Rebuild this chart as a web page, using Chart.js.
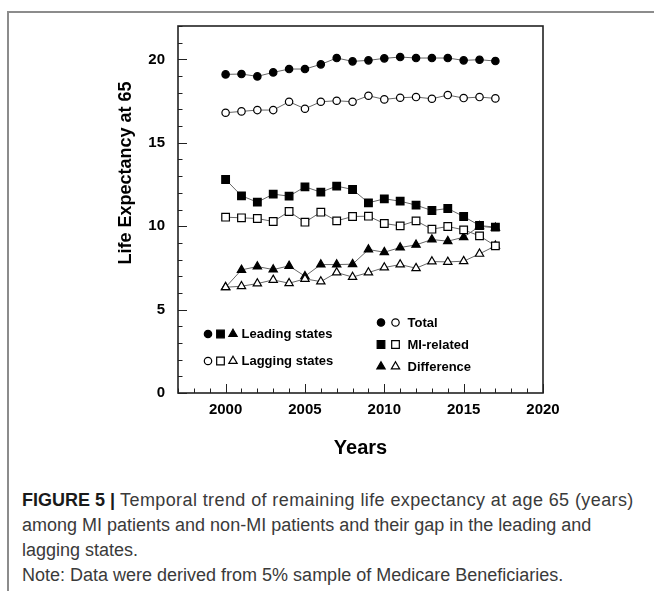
<!DOCTYPE html>
<html>
<head>
<meta charset="utf-8">
<script src="https://cdn.jsdelivr.net/npm/chart.js@4.4.1/dist/chart.umd.min.js"></script>
<style>
  html,body{margin:0;padding:0;background:#fff;}
  body{width:654px;height:591px;position:relative;overflow:hidden;font-family:"Liberation Sans",Arial,sans-serif;}
  #frame{position:absolute;left:7px;top:11px;width:700px;height:640px;border:2px solid #8c8c8c;box-sizing:border-box;}
  #chart{position:absolute;left:0;top:0;}
  #caption{position:absolute;left:22px;top:488px;font-size:18px;line-height:25px;color:#3a3a3a;white-space:nowrap;}
  #caption b{color:#1a1a1a;}
  #caption .wide{letter-spacing:0.4px;}
</style>
</head>
<body>
<div id="frame"></div>
<canvas id="chart" width="654" height="470"></canvas>
<div id="caption">
  <b>FIGURE 5 |</b> <span class="wide">Temporal trend of remaining life expectancy at age 65 (years)</span><br>
  among MI patients and non-MI patients and their gap in the leading and<br>
  lagging states.<br>
  Note: Data were derived from 5% sample of Medicare Beneficiaries.
</div>
<script>
// --- data ---
const years = [2000, 2001, 2002, 2003, 2004, 2005, 2006, 2007, 2008, 2009, 2010, 2011, 2012, 2013, 2014, 2015, 2016, 2017];

const totalLeading = [19.10, 19.12, 18.98, 19.22, 19.42, 19.42, 19.70, 20.08, 19.88, 19.94, 20.06, 20.14, 20.08, 20.08, 20.08, 19.94, 19.98, 19.90];
const totalLagging = [16.80, 16.88, 16.96, 16.96, 17.46, 17.04, 17.46, 17.52, 17.46, 17.82, 17.60, 17.70, 17.74, 17.64, 17.86, 17.68, 17.74, 17.66];
const miLeading    = [12.80, 11.82, 11.44, 11.92, 11.80, 12.36, 12.04, 12.40, 12.20, 11.40, 11.64, 11.50, 11.26, 10.94, 11.06, 10.58, 10.04, 9.94];
const miLagging    = [10.54, 10.50, 10.46, 10.28, 10.88, 10.24, 10.84, 10.32, 10.58, 10.60, 10.16, 10.02, 10.32, 9.82, 9.98, 9.78, 9.42, 8.82];
const diffLeading  = [6.34, 7.38, 7.58, 7.40, 7.62, 7.00, 7.70, 7.70, 7.72, 8.60, 8.44, 8.72, 8.88, 9.20, 9.10, 9.34, 10.00, 9.90];
const diffLagging  = [6.34, 6.40, 6.56, 6.78, 6.58, 6.84, 6.68, 7.22, 6.95, 7.22, 7.52, 7.70, 7.48, 7.88, 7.86, 7.90, 8.34, 8.82];

const xTicks = [2000, 2005, 2010, 2015, 2020];
const yTicks = [0, 5, 10, 15, 20];

const groupLabels  = ['Leading states', 'Lagging states'];
const seriesLabels = ['Total', 'MI-related', 'Difference'];
const shapes = ['circle', 'rect', 'triangle'];
const radii = { circle: 3.7, rect: 5.4, triangle: 4.8 };

// --- helpers ---
function pts(vals){ return vals.map((v, i) => ({ x: years[i], y: v })); }

function series(label, vals, shape, filled){
  return {
    label,
    data: pts(vals),
    borderColor: '#666',
    borderWidth: 1,
    pointStyle: shape,
    pointRadius: radii[shape],
    pointBackgroundColor: filled ? '#000' : '#fff',
    pointBorderColor: '#000',
    pointBorderWidth: 1.2,
    tension: 0,
    fill: false
  };
}

function marker(ctx, shape, filled, x, y){
  ctx.fillStyle = filled ? '#000' : '#fff';
  ctx.strokeStyle = '#000';
  ctx.lineWidth = 1.2;
  Chart.helpers.drawPoint(ctx, { pointStyle: shape, radius: radii[shape], rotation: 0, borderWidth: 1.2 }, x, y);
}

// box, inward ticks, legend and the y title
const decorations = {
  id: 'decorations',
  afterDraw(chart){
    const { ctx, chartArea: a, scales: { x, y } } = chart;
    ctx.save();
    ctx.strokeStyle = '#222';
    ctx.lineWidth = 1;
    for (let v = Math.ceil(x.min); v <= x.max; v++) {
      const px = Math.round(x.getPixelForValue(v)) + 0.5;
      const len = xTicks.includes(v) ? 9 : 4.5;
      ctx.beginPath(); ctx.moveTo(px, a.bottom); ctx.lineTo(px, a.bottom - len); ctx.stroke();
    }
    for (let v = Math.ceil(y.min); v <= y.max; v++) {
      const py = Math.round(y.getPixelForValue(v)) + 0.5;
      const len = yTicks.includes(v) ? 9 : 4.5;
      ctx.beginPath(); ctx.moveTo(a.left, py); ctx.lineTo(a.left + len, py); ctx.stroke();
    }
    ctx.lineWidth = 1.6;
    ctx.strokeRect(a.left, a.top, a.width, a.height);

    // legend, left block: group rows
    ctx.font = 'bold 13px "Liberation Sans", Arial, sans-serif';
    ctx.textBaseline = 'middle';
    ctx.textAlign = 'left';
    groupLabels.forEach((lab, r) => {
      const ly = a.bottom - 59 + r * 27;
      shapes.forEach((s, k) => marker(ctx, s, r === 0, a.left + 30 + k * 12.5, ly));
      ctx.fillStyle = '#000';
      ctx.fillText(lab, a.left + 63.5, ly + 0.5);
    });
    // legend, right block: series rows
    seriesLabels.forEach((lab, r) => {
      const ly = a.bottom - 70.5 + r * 22;
      marker(ctx, shapes[r], true, a.left + 203, ly);
      marker(ctx, shapes[r], false, a.left + 217.5, ly);
      ctx.fillStyle = '#000';
      ctx.fillText(lab, a.left + 229.5, ly + 0.5);
    });

    // y axis title sits above centre in the original
    ctx.translate(a.left - 52, a.top + 147);
    ctx.rotate(-Math.PI / 2);
    ctx.font = 'bold 18px "Liberation Sans", Arial, sans-serif';
    ctx.textAlign = 'center';
    ctx.fillStyle = '#000';
    ctx.fillText('Life Expectancy at 65', 0, 0);
    ctx.restore();
  }
};

// drawn bottom to top
const datasets = [
  series('Difference (leading)', diffLeading, 'triangle', true),
  series('Difference (lagging)', diffLagging, 'triangle', false),
  series('MI-related (leading)', miLeading, 'rect', true),
  series('MI-related (lagging)', miLagging, 'rect', false),
  series('Total (leading)', totalLeading, 'circle', true),
  series('Total (lagging)', totalLagging, 'circle', false)
];
datasets.forEach((d, i) => { d.order = datasets.length - i; });

const tickFont = { family: '"Liberation Sans", Arial, sans-serif', size: 15, weight: 'bold' };

new Chart(document.getElementById('chart'), {
  type: 'line',
  data: { datasets },
  options: {
    responsive: false,
    animation: false,
    events: [],
    layout: { padding: { left: 118, right: 111, top: 26, bottom: 7 } },
    plugins: { legend: { display: false }, tooltip: { enabled: false } },
    scales: {
      x: {
        type: 'linear', min: 1997, max: 2020,
        afterBuildTicks: s => { s.ticks = xTicks.map(v => ({ value: v })); },
        afterFit: s => { s.height = 70; },
        grid: { display: false, drawTicks: false },
        border: { display: false },
        ticks: { padding: 8, color: '#000', font: tickFont, callback: v => String(v) },
        title: { display: true, text: 'Years', color: '#000', padding: { top: 0, bottom: 3 },
                 font: { family: '"Liberation Sans", Arial, sans-serif', size: 20, weight: 'bold' } }
      },
      y: {
        type: 'linear', min: 0, max: 22,
        afterBuildTicks: s => { s.ticks = yTicks.map(v => ({ value: v })); },
        afterFit: s => { s.width = 60; },
        grid: { display: false, drawTicks: false },
        border: { display: false },
        ticks: { padding: 13, color: '#000', font: tickFont, callback: v => String(v) }
      }
    }
  },
  plugins: [decorations]
});
</script>
</body>
</html>
